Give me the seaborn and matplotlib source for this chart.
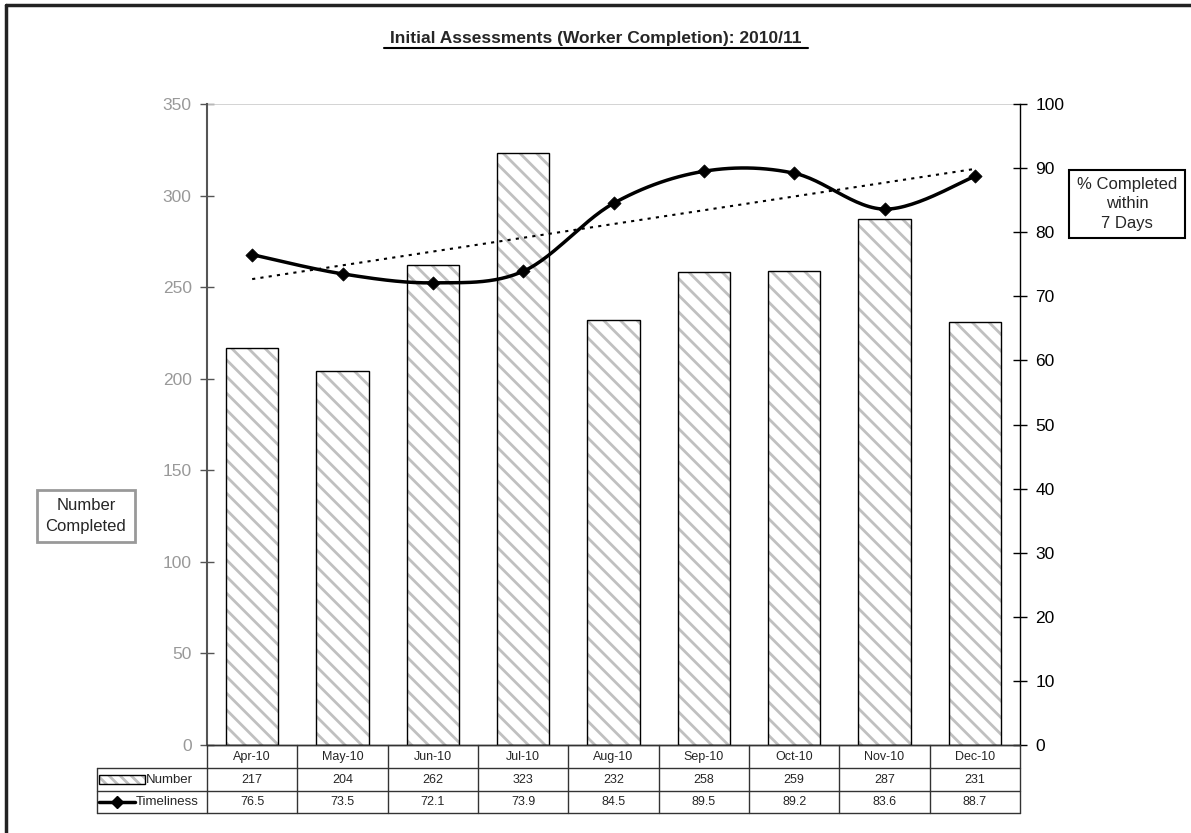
import numpy as np
import pandas as pd
import matplotlib
matplotlib.use('Agg')
import matplotlib.pyplot as plt
import seaborn as sns
from matplotlib.patches import Rectangle
from matplotlib.lines import Line2D

# 数据
months = ['Apr-10', 'May-10', 'Jun-10', 'Jul-10', 'Aug-10', 'Sep-10', 'Oct-10', 'Nov-10', 'Dec-10']
number = [217, 204, 262, 323, 232, 258, 259, 287, 231]
timeliness = [76.5, 73.5, 72.1, 73.9, 84.5, 89.5, 89.2, 83.6, 88.7]

title = 'Initial Assessments (Worker Completion): 2010/11'
left_label = 'Number\nCompleted'
right_label = '% Completed\nwithin\n7 Days'

sns.set_theme(style='white')
plt.rcParams['font.family'] = ['Liberation Sans', 'DejaVu Sans']
plt.rcParams['hatch.linewidth'] = 2.0

W, H = 1191, 833
fig = plt.figure(figsize=(W / 100, H / 100), dpi=100)
fig.patch.set_facecolor('white')
fig.patch.set_edgecolor('none')
fig.patch.set_linewidth(0)

def fx(px):
    return px / W

def fy(py):
    return 1 - py / H

ax_l, ax_r, ax_t, ax_b = 207, 1020, 104, 745
ax = fig.add_axes([fx(ax_l), fy(ax_b), fx(ax_r - ax_l), fy(ax_t) - fy(ax_b)])

df = pd.DataFrame({'month': months, 'number': number, 'timeliness': timeliness})

# 柱状图：先画斜线填充，再画黑色边框
sns.barplot(data=df, x='month', y='number', ax=ax, color='white', width=0.58,
            linewidth=0, saturation=1)
sns.barplot(data=df, x='month', y='number', ax=ax, fill=False, width=0.58,
            edgecolor='black', linewidth=1.0)
for p in ax.patches[:len(months)]:
    p.set_hatch('\\\\')
    p.set_edgecolor('#c0c0c0')
    p.set_linewidth(0)

ax.set_ylim(0, 350)
ax.set_xlim(-0.5, len(months) - 0.5)
ax.set_yticks(np.arange(0, 351, 50))
ax.set_xticks([])
ax.set_xlabel('')
ax.set_ylabel('')
ax.tick_params(axis='y', direction='inout', length=10, width=1, colors='#555555',
               labelcolor='#999999', labelsize=12.5, pad=6, left=True)
for s in ['top', 'right']:
    ax.spines[s].set_visible(False)
ax.spines['left'].set_color('#555555')
ax.spines['left'].set_linewidth(1.5)
ax.spines['bottom'].set_color('black')
ax.spines['bottom'].set_linewidth(1.0)
ax.axhline(350, color='#cccccc', lw=1.2)

# 右轴：平滑曲线 + 趋势线
ax2 = ax.twinx()
ax2.set_ylim(0, 100)
ax2.set_yticks(np.arange(0, 101, 10))
ax2.tick_params(axis='y', direction='inout', length=10, width=1, colors='black',
                labelsize=12.5, pad=6, right=True)
for s in ['top', 'left', 'bottom']:
    ax2.spines[s].set_visible(False)
ax2.spines['right'].set_color('black')
ax2.spines['right'].set_linewidth(1.0)
ax2.grid(False)

x = np.arange(len(months), dtype=float)
y = np.array(timeliness)

# Catmull-Rom 平滑（类似 Excel 平滑线）
xs, ys = [], []
pts = np.column_stack([x, y])
for i in range(len(pts) - 1):
    p0 = pts[i - 1] if i > 0 else pts[i]
    p1 = pts[i]
    p2 = pts[i + 1]
    p3 = pts[i + 2] if i + 2 < len(pts) else pts[i + 1]
    c1 = p1 + (p2 - p0) / 6
    c2 = p2 - (p3 - p1) / 6
    t = np.linspace(0, 1, 30)[:, None]
    seg = (1 - t) ** 3 * p1 + 3 * (1 - t) ** 2 * t * c1 + 3 * (1 - t) * t ** 2 * c2 + t ** 3 * p2
    xs.extend(seg[:, 0])
    ys.extend(seg[:, 1])
ax2.plot(xs, ys, color='black', lw=2.5, zorder=5)
sns.scatterplot(x=x, y=y, ax=ax2, marker='D', s=45, color='black', edgecolor='black', zorder=6)

k, b = np.polyfit(x, y, 1)
ax2.plot(x[[0, -1]], k * x[[0, -1]] + b, color='black', lw=1.5, ls=(0, (1.5, 2.5)), zorder=4)

# 标题
fig.text(fx(596), fy(39), title, ha='center', va='center', fontsize=12.5, fontweight='bold')
fig.add_artist(Line2D([fx(384), fx(808)], [fy(48), fy(48)], color='black', lw=1.5))

# 外框（只有上边和左边可见）
fig.add_artist(Line2D([fx(6), fx(W + 5)], [fy(5), fy(5)], color='#222222', lw=2.5))
fig.add_artist(Line2D([fx(6), fx(6)], [fy(5), fy(H + 5)], color='#222222', lw=2.5))

# 轴标签框
fig.text(fx(86), fy(516), left_label, ha='center', va='center', fontsize=12, linespacing=1.5,
         bbox=dict(boxstyle='square,pad=0.5', fc='white', ec='#999999', lw=2))
fig.text(fx(1127), fy(204), right_label, ha='center', va='center', fontsize=12, linespacing=1.35,
         bbox=dict(boxstyle='square,pad=0.45', fc='white', ec='black', lw=1.5))

# 数据表
slot = (ax_r - ax_l) / len(months)
rows_y = [745, 768, 791, 813]
tcol = '#333333'
fig.add_artist(Line2D([fx(ax_l), fx(ax_r)], [fy(745), fy(745)], color=tcol, lw=1))
for ry in rows_y[1:]:
    fig.add_artist(Line2D([fx(97), fx(ax_r)], [fy(ry), fy(ry)], color=tcol, lw=1))
for i in range(len(months) + 1):
    xx = ax_l + i * slot
    fig.add_artist(Line2D([fx(xx), fx(xx)], [fy(745), fy(813)], color=tcol, lw=1))
fig.add_artist(Line2D([fx(97), fx(97)], [fy(768), fy(813)], color=tcol, lw=1))

for i, m in enumerate(months):
    cx = ax_l + (i + 0.5) * slot
    fig.text(fx(cx), fy(757), m, ha='center', va='center', fontsize=9)
    fig.text(fx(cx), fy(780), str(number[i]), ha='center', va='center', fontsize=9)
    fig.text(fx(cx), fy(802), f'{timeliness[i]:.1f}', ha='center', va='center', fontsize=9)

# 图例符号
fig.add_artist(Rectangle((fx(99), fy(784)), fx(46), fy(775) - fy(784), fc='white',
                         ec='#c0c0c0', lw=0, hatch='\\\\\\'))
fig.add_artist(Rectangle((fx(99), fy(784)), fx(46), fy(775) - fy(784), fill=False,
                         ec='black', lw=1))
fig.text(fx(146), fy(780), 'Number', ha='left', va='center', fontsize=9.5)
fig.add_artist(Line2D([fx(99), fx(135)], [fy(802), fy(802)], color='black', lw=2.5))
fig.add_artist(Line2D([fx(117)], [fy(802)], marker='D', ms=6, color='black'))
fig.text(fx(136), fy(802), 'Timeliness', ha='left', va='center', fontsize=9.5)

plt.savefig('out.png', dpi=100, facecolor='white', edgecolor='none')
plt.close()
